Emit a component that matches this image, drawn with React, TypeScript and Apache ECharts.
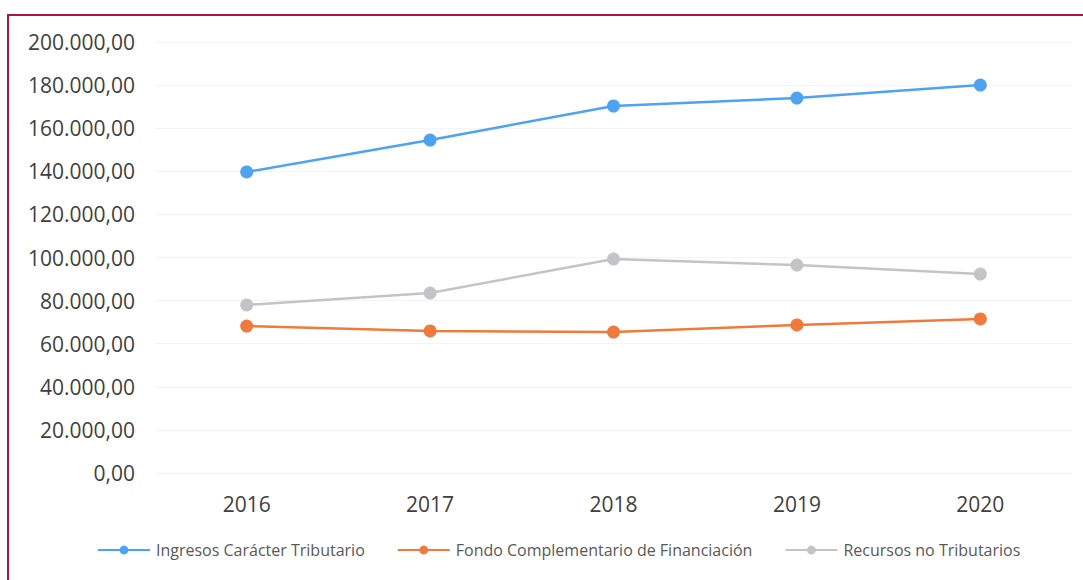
import React, { useEffect, useRef } from "react";
import * as echarts from "echarts";

const years = ["2016", "2017", "2018", "2019", "2020"];
const ingresosTributario = [139700, 154500, 170300, 174000, 180000];
const fondoComplementario = [68200, 65900, 65400, 68700, 71500];
const recursosNoTributarios = [78000, 83500, 99300, 96500, 92300];
const seriesNames = [
  "Ingresos Carácter Tributario",
  "Fondo Complementario de Financiación",
  "Recursos no Tributarios",
];

const fmt = (v: number) =>
  v.toFixed(2).replace(".", ",").replace(/\B(?=(\d{3})+(?!\d))/g, ".");

export default function App() {
  const ref = useRef<HTMLDivElement>(null);
  useEffect(() => {
    if (!ref.current) return;
    const chart = echarts.init(ref.current, null, { renderer: "svg" });
    const font = "Open Sans";
    const mk = (name: string, data: number[], color: string) => ({
      name,
      type: "line",
      data,
      symbol: "circle",
      symbolSize: 13,
      lineStyle: { color, width: 2.5 },
      itemStyle: { color },
    });
    chart.setOption({
      animation: false,
      backgroundColor: "#ffffff",
      textStyle: { fontFamily: font },
      grid: { left: 155, right: 11, top: 42, bottom: 107, containLabel: false },
      graphic: [
        {
          type: "rect",
          shape: { x: 8, y: 15, width: 1100, height: 620 },
          style: { fill: "none", stroke: "#b3123a", lineWidth: 2 },
          silent: true,
        },
      ],
      legend: {
        left: 97,
        top: 542,
        padding: 0,
        itemWidth: 52,
        itemHeight: 11,
        itemGap: 32,
        textStyle: { color: "#595959", fontSize: 16, fontFamily: font, padding: [0, 0, 0, 1] },
        data: seriesNames,
      },
      xAxis: {
        type: "category",
        data: years,
        boundaryGap: true,
        axisLine: { show: false },
        axisTick: { show: false },
        axisLabel: { color: "#404040", fontSize: 21, margin: 20, fontFamily: font },
      },
      yAxis: {
        type: "value",
        min: 0,
        max: 200000,
        interval: 20000,
        axisLine: { show: false },
        axisTick: { show: false },
        splitLine: { lineStyle: { color: "#f4f4f4", width: 1 } },
        axisLabel: {
          color: "#404040",
          fontSize: 21,
          margin: 20,
          fontFamily: font,
          formatter: (v: number) => fmt(v),
        },
      },
      series: [
        mk(seriesNames[0], ingresosTributario, "#4da3f0"),
        mk(seriesNames[1], fondoComplementario, "#f07a3c"),
        mk(seriesNames[2], recursosNoTributarios, "#c4c4c8"),
      ],
    });
    return () => chart.dispose();
  }, []);
  return (
    <div
      ref={ref}
      style={{ position: "fixed", left: 0, top: 0, width: 1083, height: 580 }}
    />
  );
}
